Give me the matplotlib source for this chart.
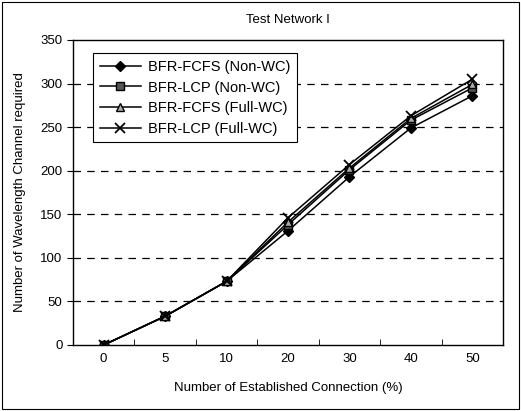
import numpy as np
import matplotlib.pyplot as plt
from matplotlib.patches import Rectangle

plt.rcParams['font.family'] = ['Liberation Sans', 'DejaVu Sans']

connections = ['0', '5', '10', '20', '30', '40', '50']
fcfs_non_wc = [0, 33, 73, 131, 193, 249, 286]
lcp_non_wc = [0, 33, 73, 138, 201, 258, 295]
fcfs_full_wc = [0, 33, 73, 141, 203, 260, 299]
lcp_full_wc = [0, 33, 73, 146, 207, 263, 305]

fig = plt.figure(figsize=(5.21, 4.11), dpi=100)
ax = fig.add_axes([0.140, 0.1606, 0.8255, 0.7421])

# thin frame round the whole figure
fig.patches.append(Rectangle((0.004, 0.004), 0.992, 0.992, transform=fig.transFigure,
                             fill=False, edgecolor='black', linewidth=0.8))

x = np.arange(len(connections))
ax.plot(x, fcfs_non_wc, color='black', lw=1.1, marker='D', ms=5,
        mfc='black', mec='black', label='BFR-FCFS (Non-WC)')
ax.plot(x, lcp_non_wc, color='black', lw=1.1, marker='s', ms=6,
        mfc='#555555', mec='black', label='BFR-LCP (Non-WC)')
ax.plot(x, fcfs_full_wc, color='black', lw=1.1, marker='^', ms=6,
        mfc='#aaaaaa', mec='black', label='BFR-FCFS (Full-WC)')
ax.plot(x, lcp_full_wc, color='black', lw=1.1, marker='x', ms=7, mew=1.3,
        label='BFR-LCP (Full-WC)')

ax.set_xlim(-0.5, len(connections) - 0.5)
ax.set_ylim(0, 350)
ax.set_yticks(range(0, 351, 50))
ax.set_xticks(x)
ax.set_xticklabels(connections)
ax.set_xticks(np.arange(0.5, len(connections) - 1, 1), minor=True)
ax.tick_params(axis='x', which='major', length=0, labelsize=9.5, pad=6)
ax.tick_params(axis='x', which='minor', length=4, direction='in')
ax.tick_params(axis='y', length=4, direction='out', labelsize=9.5)

for v in range(50, 350, 50):
    ax.axhline(v, color='black', ls=(0, (6, 5)), lw=0.9, zorder=0)

for s in ax.spines.values():
    s.set_linewidth(1.0)

ax.set_title('Test Network I', fontsize=9.5, pad=12)
ax.set_xlabel('Number of Established Connection (%)', fontsize=9.5, labelpad=12)
ax.set_ylabel('Number of Wavelength Channel required', fontsize=9.5, labelpad=10)

leg = ax.legend(loc='upper left', bbox_to_anchor=(0.03, 0.98), fontsize=10.5,
                fancybox=False, edgecolor='black', framealpha=1,
                handlelength=2.8, handletextpad=0.5, borderpad=0.45,
                labelspacing=0.45)
leg.get_frame().set_linewidth(0.8)

fig.savefig('out.png', dpi=100)
